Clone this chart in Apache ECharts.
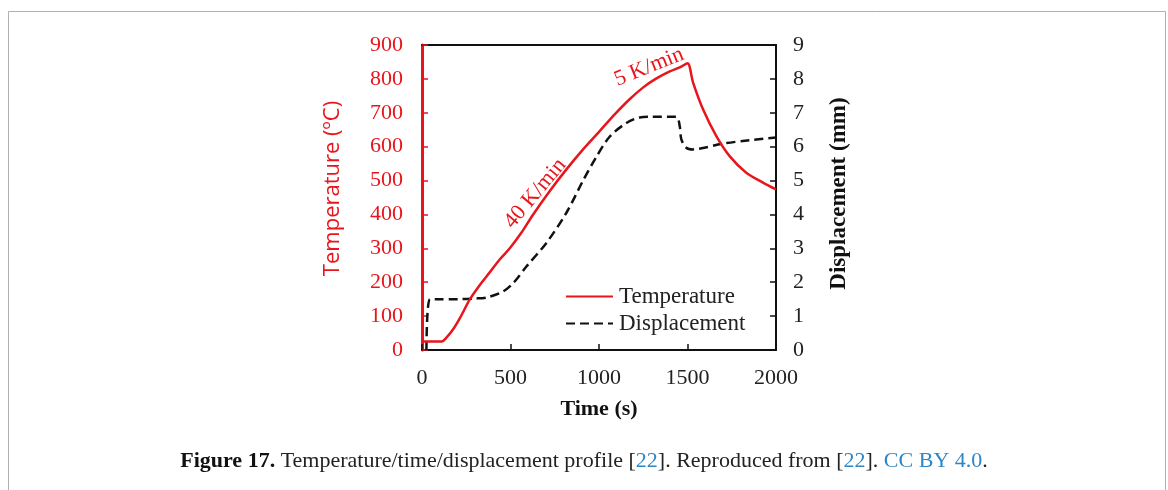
<!DOCTYPE html>
<html>
<head>
<meta charset="utf-8">
<script src="https://cdn.jsdelivr.net/npm/echarts@6/dist/echarts.min.js"></script>
<style>
html,body{margin:0;padding:0;background:#fff;}
#c{width:1168px;height:490px;}
</style>
</head>
<body>
<div id="c"></div>
<script>
// ---- data ----
const tempTime = [0, 111, 139, 177, 214, 271, 327, 384, 440, 496, 560, 628, 720, 816, 910, 1004, 1090, 1173, 1250, 1320, 1400, 1460, 1500, 1531, 1587, 1663, 1738, 1832, 1926, 2000];
const tempVals = [25, 25, 37, 62, 94, 150, 192, 230, 268, 300, 345, 400, 468, 533, 592, 646, 696, 740, 775, 800, 822, 835, 846, 790, 711, 631, 572, 523, 494, 474];
const dispTime = [25, 45, 100, 200, 300, 365, 459, 515, 591, 703, 816, 910, 985, 1061, 1155, 1230, 1300, 1437, 1456, 1465, 1493, 1531, 1700, 1850, 2000];
const dispVals = [0, 1.5, 1.5, 1.5, 1.52, 1.55, 1.73, 1.97, 2.47, 3.16, 4.05, 5.0, 5.7, 6.3, 6.7, 6.86, 6.88, 6.88, 6.61, 6.22, 5.97, 5.92, 6.09, 6.19, 6.27];
const xTicks = {min: 0, max: 2000, interval: 500};
const yLeftTicks = {min: 0, max: 900, interval: 100};
const yRightTicks = {min: 0, max: 9, interval: 1};
const seriesNames = ['Temperature', 'Displacement'];
const annotations = [
  {text: '40 K/min', t: 640, T: 462, angle: 50},
  {text: '5 K/min', t: 1283, T: 835, angle: 22}
];

const RED = '#e8161c';
const SERIF = '"Liberation Serif", "Times New Roman", serif';
const plain = v => String(v);

const chart = echarts.init(document.getElementById('c'), null, {renderer: 'canvas'});
const tempData = tempTime.map((t, i) => [t, tempVals[i]]);
const dispData = dispTime.map((t, i) => [t, dispVals[i]]);

const option = {
  backgroundColor: '#fff',
  animation: false,
  grid: {left: 422, right: 392, top: 45, bottom: 140, containLabel: false},
  legend: {
    orient: 'vertical',
    left: 560, top: 280,
    itemWidth: 47, itemHeight: 14, itemGap: 4,
    itemStyle: {opacity: 0},
    textStyle: {fontFamily: SERIF, fontSize: 23, color: '#222', padding: [0, 0, 0, 1]},
    data: seriesNames
  },
  xAxis: [{
    type: 'value', position: 'bottom',
    min: xTicks.min, max: xTicks.max, interval: xTicks.interval,
    axisLine: {show: true, onZero: false, lineStyle: {color: '#111', width: 2}},
    axisTick: {show: true, inside: true, length: 6, lineStyle: {color: '#111', width: 1.5}},
    axisLabel: {fontFamily: SERIF, fontSize: 22, color: '#222', margin: 17, formatter: plain},
    splitLine: {show: false},
    name: 'Time (s)', nameLocation: 'middle', nameGap: 48,
    nameTextStyle: {fontFamily: SERIF, fontSize: 22, fontWeight: 'bold', color: '#111'}
  }, {
    type: 'value', position: 'top',
    min: xTicks.min, max: xTicks.max,
    axisLine: {show: true, onZero: false, lineStyle: {color: '#111', width: 2}},
    axisTick: {show: false}, axisLabel: {show: false}, splitLine: {show: false}
  }],
  yAxis: [{
    type: 'value', position: 'left',
    min: yLeftTicks.min, max: yLeftTicks.max, interval: yLeftTicks.interval,
    axisLine: {show: true, onZero: false, lineStyle: {color: RED, width: 3}},
    axisTick: {show: true, inside: true, length: 6, lineStyle: {color: RED, width: 1.5}},
    axisLabel: {fontFamily: SERIF, fontSize: 22, color: RED, margin: 19, formatter: plain},
    splitLine: {show: false},
    name: 'Temperature (ºC)', nameLocation: 'middle', nameGap: 78, nameRotate: 90,
    nameTextStyle: {fontFamily: '"Open Sans", Lato, sans-serif', fontSize: 22, color: RED, padding: [0, 0, 0, 18]}
  }, {
    type: 'value', position: 'right',
    min: yRightTicks.min, max: yRightTicks.max, interval: yRightTicks.interval,
    axisLine: {show: true, onZero: false, lineStyle: {color: '#111', width: 2}},
    axisTick: {show: true, inside: true, length: 6, lineStyle: {color: '#111', width: 1.5}},
    axisLabel: {fontFamily: SERIF, fontSize: 22, color: '#222', margin: 17, formatter: plain},
    splitLine: {show: false},
    name: 'Displacement (mm)', nameLocation: 'middle', nameGap: 52, nameRotate: 90,
    nameTextStyle: {fontFamily: SERIF, fontSize: 23, fontWeight: 'bold', color: '#111', padding: [0, 0, 0, 8]}
  }],
  series: [{
    name: seriesNames[0], type: 'line', xAxisIndex: 0, yAxisIndex: 0,
    data: tempData, smooth: 0.3, symbol: 'none', showSymbol: false,
    lineStyle: {color: RED, width: 2.5}, itemStyle: {color: RED},
    z: 3,
    markPoint: {
      symbol: 'circle', symbolSize: 0, silent: true,
      data: annotations.map(a => ({
        coord: [a.t, a.T],
        label: {show: true, position: 'inside', formatter: a.text, rotate: a.angle,
          fontFamily: SERIF, fontSize: 22, color: RED}
      }))
    }
  }, {
    name: seriesNames[1], type: 'line', xAxisIndex: 0, yAxisIndex: 1,
    data: dispData, smooth: 0.3, symbol: 'none', showSymbol: false,
    lineStyle: {color: '#111', width: 2.5, type: [9, 5]}, itemStyle: {color: '#111'},
    z: 2
  }],
  graphic: [{
    type: 'rect', silent: true, z: -1,
    shape: {x: 8.5, y: 11.5, width: 1157, height: 520},
    style: {fill: 'none', stroke: '#b0b0b0', lineWidth: 1}
  }, {
    type: 'text', left: 'center', top: 450, silent: true,
    style: {
      text: '{b|Figure 17.} Temperature/time/displacement profile [{l|22}]. Reproduced from [{l|22}]. {l|CC BY 4.0}.',
      fontFamily: SERIF, fontSize: 22, fill: '#222',
      rich: {
        b: {fontFamily: SERIF, fontSize: 22, fontWeight: 'bold', fill: '#111'},
        l: {fontFamily: SERIF, fontSize: 22, fill: '#2f86c4'}
      }
    }
  }]
};
chart.setOption(option);
</script>
</body>
</html>
